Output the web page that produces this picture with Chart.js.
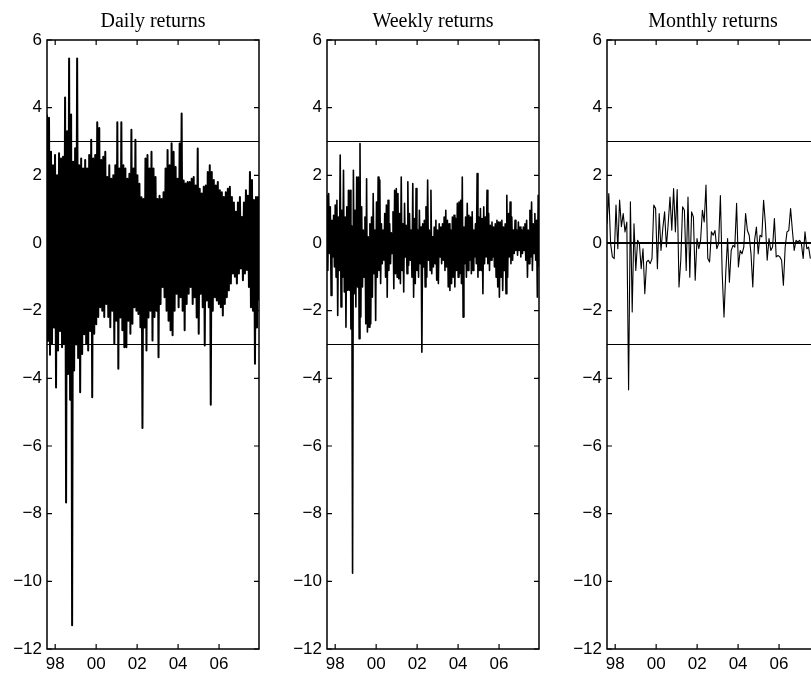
<!DOCTYPE html>
<html>
<head>
<meta charset="utf-8">
<script src="https://cdn.jsdelivr.net/npm/chart.js@4.4.0/dist/chart.umd.min.js"></script>
<style>
  html, body { margin: 0; padding: 0; background: #fff; overflow: hidden; width: 811px; height: 674px; }
  canvas { position: absolute; top: 0; }
</style>
</head>
<body>
<canvas id="dailyChart" width="270" height="674" style="left:0px"></canvas>
<canvas id="weeklyChart" width="270" height="674" style="left:280px"></canvas>
<canvas id="monthlyChart" width="270" height="674" style="left:560px"></canvas>
<script>
// axis ranges and tick labels
const xMin = 1997.6;
const xMax = 2007.95;
const monthlyEnd = 2007.53;
const yearTicks = [1998, 2000, 2002, 2004, 2006];
const valueTicks = [-12, -10, -8, -6, -4, -2, 0, 2, 4, 6];
const bandLevels = [3, -3];

// daily returns, read as the high / low of each small slice of time
const dailyHigh = [
  3.8, 3.7, 2.7, 2.3, 2.6, 2.0, 2.65, 2.5, 2.55, 4.3,
  3.3, 5.45, 3.8, 2.4, 2.8, 5.45, 2.3, 2.5, 2.2, 2.45,
  2.2, 2.6, 3.05, 2.5, 2.6, 3.57, 3.4, 2.45, 2.55, 2.7,
  1.95, 2.3, 1.9, 2.0, 2.3, 3.57, 2.2, 3.57, 2.3, 2.2,
  1.9, 2.05, 3.35, 2.2, 3.05, 2.0, 1.75, 1.35, 1.3, 2.5,
  2.6, 2.2, 2.7, 2.2, 1.95, 1.3, 1.4, 1.3, 1.5, 2.2,
  2.75, 2.3, 2.95, 2.7, 2.25, 1.9, 2.94, 3.83, 1.85, 1.76,
  1.8, 1.8, 1.9, 1.95, 1.7, 2.79, 1.6, 1.46, 1.66, 1.7,
  2.1, 2.3, 2.1, 1.86, 1.7, 1.8, 1.56, 1.5, 1.36, 1.5,
  1.6, 1.66, 1.36, 1.2, 0.92, 1.2, 1.36, 0.77, 1.2, 1.56,
  1.4, 2.1, 1.86, 1.27, 1.36, 1.36
];
const dailyLow = [
  -2.9, -3.3, -2.98, -2.5, -4.27, -3.18, -2.6, -3.08, -2.98, -7.67,
  -3.87, -4.63, -11.3, -3.77, -3.0, -3.4, -4.41, -3.28, -2.7, -2.98,
  -3.18, -2.6, -4.56, -2.68, -2.4, -2.19, -1.9, -2.0, -2.19, -1.8,
  -2.19, -2.49, -2.0, -2.98, -2.3, -3.72, -2.2, -2.58, -3.08, -3.08,
  -2.3, -2.68, -2.39, -1.9, -2.0, -2.1, -2.49, -5.47, -2.5, -3.18,
  -2.2, -2.0, -2.88, -2.19, -2.0, -3.38, -1.8, -1.3, -1.6, -2.0,
  -2.3, -2.58, -2.73, -2.0, -1.5, -1.9, -1.6, -2.0, -2.58, -1.8,
  -1.5, -1.3, -1.8, -1.6, -2.2, -2.68, -1.5, -1.9, -3.03, -1.7,
  -1.9, -4.78, -2.0, -1.6, -1.7, -1.8, -1.9, -2.14, -1.8, -1.6,
  -1.4, -1.2, -0.9, -1.0, -1.2, -0.9, -0.75, -1.1, -0.9, -0.8,
  -1.3, -1.9, -2.0, -3.57, -2.5, -1.7
];

// weekly returns in time order
const weeklyReturns = [
  1.41, -0.81, 1.46, -0.31, 1.07, -1.55, 0.67, -0.41, 0.82, -0.71,
  1.12, -1.01, 1.26, -2.14, 0.77, -0.81, 2.60, -1.89, 0.97, -1.01,
  2.15, -1.45, 0.77, -2.49, 1.07, -1.40, 1.56, -1.40, 1.56, -2.54,
  0.50, -9.76, 2.15, -1.50, 0.97, -1.89, 1.95, -1.30, 1.95, -2.83,
  2.94, -2.19, 1.07, -1.30, 0.38, -1.01, 0.77, -2.39, 1.90, -2.63,
  0.18, -2.49, 0.57, -2.39, 0.77, -1.60, 1.46, -0.91, 0.38, -2.29,
  1.21, -1.01, 1.95, -0.81, 1.86, -1.20, 0.57, -0.61, 0.38, -0.51,
  0.87, -1.01, 1.12, -1.60, 1.26, -0.81, 0.57, -0.61, 0.30, -0.31,
  0.92, -1.35, 1.56, -0.91, 1.61, -1.01, 1.46, -1.06, 0.87, -1.20,
  1.95, -0.81, 0.57, -1.45, 1.17, -0.41, 0.52, -0.91, 1.81, -0.66,
  0.87, -0.51, 0.38, -1.01, 1.76, -1.60, 0.72, -1.20, 1.61, -0.81,
  0.38, -1.01, 0.97, -0.61, 0.47, -3.23, 0.57, -0.71, 0.67, -1.30,
  1.07, -1.01, 1.86, -0.51, 0.38, -0.81, 1.56, -0.91, 0.18, -0.71,
  0.47, -0.61, 0.67, -1.10, 0.38, -1.20, 0.57, -0.41, 0.47, -0.61,
  0.57, -0.51, 0.77, -0.81, 0.97, -0.71, 0.67, -1.30, 0.57, -1.40,
  0.38, -1.20, 0.77, -1.01, 0.82, -1.30, 0.72, -0.81, 1.17, -1.01,
  1.21, -0.91, 1.26, -1.20, 1.95, -2.19, 0.47, -0.61, 0.77, -1.01,
  1.17, -0.81, 0.82, -0.51, 0.77, -0.91, 0.92, -0.81, 0.38, -0.41,
  0.57, -0.61, 2.05, -1.01, 0.77, -0.81, 1.02, -0.81, 0.72, -1.50,
  1.07, -0.61, 0.77, -0.41, 1.56, -0.61, 0.87, -0.81, 0.52, -0.51,
  0.62, -0.41, 0.47, -0.71, 0.57, -1.01, 0.67, -1.30, 0.62, -1.60,
  0.62, -1.01, 0.67, -1.40, 0.47, -0.81, 0.57, -1.50, 1.41, -1.01,
  0.87, -0.41, 1.21, -0.61, 0.77, -0.51, 0.38, -0.31, 0.67, -0.22,
  0.38, -0.36, 0.62, -0.22, 0.47, -0.41, 0.38, -0.31, 0.47, -0.22,
  0.57, -0.51, 0.67, -1.01, 0.38, -0.61, 0.97, -0.41, 1.21, -0.81,
  0.57, -0.31, 0.87, -0.51, 0.67, -1.60, 1.41, -0.71
];

// monthly returns in time order
const monthlyReturns = [
  0.57, 1.46, -0.02, -0.41, -0.46, 1.12, -0.17, 1.27, 0.48, 0.87,
  0.33, 0.62, -4.34, 1.22, -2.04, 0.57, -0.81, 0.08, -0.02, -0.76,
  -0.17, -1.5, -0.56, -0.51, -0.61, -0.46, 1.12, 1.02, -0.76, 0.87,
  -0.22, 0.43, 0.92, -0.12, 0.57, 1.36, 0.38, 1.61, 0.33, 1.58,
  -1.3, -0.5, 1.07, 0.97, -0.81, 1.36, -1.01, 0.92, 0.77, -1.1,
  0.13, -0.17, 0.08, 0.97, 0.62, 1.71, -0.46, -0.56, 0.33, 0.23,
  0.37, -0.17, -0.02, 1.4, -0.9, -2.19, -0.86, 0.13, -1.16, -0.22,
  -0.07, -0.12, 1.17, -0.71, -0.22, -0.32, -0.12, 0.87, 0.37, 0.23,
  -0.32, -1.3, 0.08, 0.47, -0.32, 0.23, 0.18, 1.26, 0.57, -0.51,
  0.13, -0.22, -0.12, 0.72, -0.41, -0.37, -0.41, -0.51, -1.25, -0.12,
  0.33, 0.37, 1.02, 0.37, -0.22, 0.08, 0.03, 0.08, -0.02, -0.46,
  0.33, -0.17, -0.12, -0.46
];

Chart.defaults.font.family = "'Liberation Sans', Arial, sans-serif";
Chart.defaults.color = '#000';

function spread(values, start, end) {
  const step = (end - start) / (values.length - 1);
  return values.map((v, i) => ({ x: start + i * step, y: v }));
}

function hline(level, width) {
  return {
    data: [{ x: xMin, y: level }, { x: xMax, y: level }],
    borderColor: '#000',
    borderWidth: width,
    pointRadius: 0
  };
}

function minusSign(v) {
  return v < 0 ? '\u2212' + Math.abs(v) : String(v);
}

// box round the plot with inward tick marks on all four sides
const framePlugin = {
  id: 'frame',
  afterDraw(chart) {
    const ctx = chart.ctx;
    const a = chart.chartArea;
    const xs = chart.scales.x;
    const ys = chart.scales.y;
    ctx.save();
    ctx.strokeStyle = '#000';
    ctx.lineWidth = 1.5;
    ctx.strokeRect(a.left, a.top, a.right - a.left, a.bottom - a.top);
    ctx.lineWidth = 1.2;
    ctx.beginPath();
    valueTicks.forEach(v => {
      const py = ys.getPixelForValue(v);
      ctx.moveTo(a.left, py); ctx.lineTo(a.left + 5, py);
      ctx.moveTo(a.right, py); ctx.lineTo(a.right - 5, py);
    });
    yearTicks.forEach(v => {
      const px = xs.getPixelForValue(v);
      ctx.moveTo(px, a.bottom); ctx.lineTo(px, a.bottom - 5);
      ctx.moveTo(px, a.top); ctx.lineTo(px, a.top + 5);
    });
    ctx.stroke();
    ctx.restore();
  }
};

function createChart(canvasId, title, points, lineWidth) {
  return new Chart(document.getElementById(canvasId), {
    type: 'line',
    data: {
      datasets: [
        hline(0, 2),
        hline(bandLevels[0], 1),
        hline(bandLevels[1], 1),
        {
          data: points,
          borderColor: '#000',
          borderWidth: lineWidth,
          borderJoinStyle: 'round',
          pointRadius: 0,
          tension: 0
        }
      ]
    },
    options: {
      responsive: false,
      animation: false,
      devicePixelRatio: 1,
      layout: { padding: { left: 0, right: 11, top: 0, bottom: 0 } },
      plugins: {
        legend: { display: false },
        tooltip: { enabled: false },
        title: {
          display: true,
          text: title,
          fullSize: false,
          color: '#000',
          font: { family: "'Liberation Serif', 'Times New Roman', serif", size: 20, weight: 'normal' },
          padding: { top: 10, bottom: 6 }
        }
      },
      scales: {
        x: {
          type: 'linear',
          min: xMin,
          max: xMax,
          grid: { display: false, drawTicks: false },
          border: { display: false },
          afterBuildTicks: axis => { axis.ticks = yearTicks.map(v => ({ value: v })); },
          afterFit: axis => { axis.height = 25; },
          ticks: {
            autoSkip: false,
            maxRotation: 0,
            padding: 5,
            font: { size: 17 },
            callback: v => String(v % 100).padStart(2, '0')
          }
        },
        y: {
          min: -12,
          max: 6,
          grid: { display: false, drawTicks: false },
          border: { display: false },
          afterBuildTicks: axis => { axis.ticks = valueTicks.map(v => ({ value: v })); },
          afterFit: axis => { axis.width = 47; },
          ticks: {
            padding: 5,
            font: { size: 17 },
            callback: v => minusSign(v)
          }
        }
      }
    },
    plugins: [framePlugin]
  });
}

const dailyPoints = spread(dailyHigh.flatMap((h, i) => [h, dailyLow[i]]), xMin, xMax);
const weeklyPoints = spread(weeklyReturns, xMin, xMax);
const monthlyPoints = spread(monthlyReturns, xMin, monthlyEnd);

createChart('dailyChart', 'Daily returns', dailyPoints, 2);
createChart('weeklyChart', 'Weekly returns', weeklyPoints, 1.6);
createChart('monthlyChart', 'Monthly returns', monthlyPoints, 1.1);
</script>
</body>
</html>
